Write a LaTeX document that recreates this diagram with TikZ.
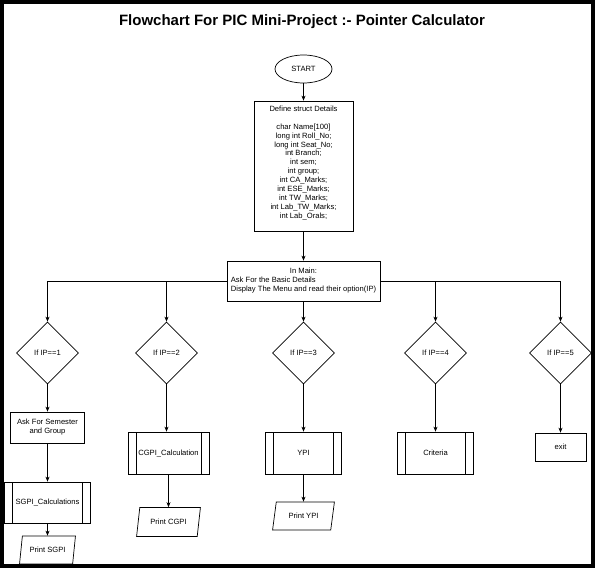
\documentclass[tikz,border=0pt]{standalone}
\usepackage{fontspec}
\setmainfont{Liberation Sans}
\usepackage{tikz}
\usetikzlibrary{shapes.geometric, arrows.meta, positioning}
\tikzstyle{titletext} = [font=\bfseries\fontsize{15}{18}\selectfont, inner sep=0pt]
\tikzstyle{startstop} = [ellipse, minimum width=57pt, minimum height=28pt, inner sep=0pt, text centered, draw=black]
\tikzstyle{block} = [rectangle, draw=black, minimum width=99pt, minimum height=130pt, inner sep=0pt, align=center, font=\fontsize{7.6}{8.9}\selectfont]
\tikzstyle{process} = [rectangle, draw=black, inner sep=0pt, align=center]
\tikzstyle{decision} = [diamond, draw=black, minimum width=62pt, minimum height=62pt, aspect=1, inner sep=0pt]
\tikzstyle{io} = [trapezium, trapezium left angle=70, trapezium right angle=110, trapezium stretches=true, minimum width=62pt, minimum height=28pt, inner sep=0pt, draw=black]
\tikzstyle{subproc} = [rectangle, draw=black, minimum height=42pt, inner sep=0pt,
  path picture={\draw ([xshift=8pt]path picture bounding box.north west) -- ([xshift=8pt]path picture bounding box.south west);
                \draw ([xshift=-8pt]path picture bounding box.north east) -- ([xshift=-8pt]path picture bounding box.south east);}]
\tikzstyle{line} = [draw, -{Stealth[length=5pt,width=4pt]}]

\begin{document}
\begin{tikzpicture}[x=1pt, y=-1pt, node distance=100pt, line width=0.7pt,
    every node/.append style={font=\fontsize{7.6}{9}\selectfont}]
  \useasboundingbox (0,0) rectangle (595,568);
  \fill[white] (0,0) rectangle (595,568);

  \node (title) [titletext] at (302,22) {Flowchart For PIC Mini-Project :- Pointer Calculator};
  \node (start) [startstop] at (303.5,69) {START};
  \node (details) [block, below of=start, yshift=3pt] {Define struct Details\\[8.9pt]
    char Name[100]\\ long int Roll\_No;\\ long int Seat\_No;\\ int Branch;\\ int sem;\\ int group;\\
    int CA\_Marks;\\ int ESE\_Marks;\\ int TW\_Marks;\\ int Lab\_TW\_Marks;\\ int Lab\_Orals;\\[-1pt]};
  \node (main) [process, below of=details, yshift=-15pt, minimum width=153pt, minimum height=40pt] {%
    \begin{tabular}{@{}l@{}}\multicolumn{1}{@{}c@{}}{In Main:}\\ Ask For the Basic Details\\ Display The Menu and read their option(IP)\end{tabular}};

  % decisions
  \node (d3) [decision, below of=main, yshift=28pt] {If IP==3};
  \node (d2) [decision, left of=d3, xshift=-37pt] {If IP==2};
  \node (d1) [decision, left of=d2, xshift=-19pt] {If IP==1};
  \node (d4) [decision, right of=d3, xshift=32pt] {If IP==4};
  \node (d5) [decision, right of=d4, xshift=25pt] {If IP==5};

  % branches
  \node (ask) [process, below of=d1, yshift=25.5pt, minimum width=74pt, minimum height=31pt] {Ask For Semester\\and Group};
  \node (sgpi) [subproc, below of=ask, yshift=25pt, minimum width=86pt, minimum height=41pt] {SGPI\_Calculations};
  \node (psgpi) [io, below of=sgpi, yshift=52.5pt, minimum width=56pt] {Print SGPI};
  \node (cgpi) [subproc, below of=d2, xshift=2pt, minimum width=81pt] {CGPI\_Calculation};
  \node (pcgpi) [io, below of=cgpi, yshift=31pt, minimum width=64pt, minimum height=29pt] {Print CGPI};
  \node (ypi) [subproc, below of=d3, minimum width=76pt] {YPI};
  \node (pypi) [io, below of=ypi, yshift=37pt] {Print YPI};
  \node (crit) [subproc, below of=d4, minimum width=76pt] {Criteria};
  \node (exit) [process, below of=d5, yshift=6pt, minimum width=51pt, minimum height=28pt] {exit};

  % Draw edges
  \path [line] (start) -- (details);
  \path [line] (details) -- (main);
  \path [line] (main) -- (d3);
  \path [line] (main.west) -| (d1);
  \path [line] (main.west) -| (d2);
  \path [line] (main.east) -| (d4);
  \path [line] (main.east) -| (d5);
  \path [line] (d1) -- (ask);
  \path [line] (ask) -- (sgpi);
  \path [line] (sgpi) -- (psgpi);
  \path [line] (d2) -- (d2 |- cgpi.north);
  \path [line] (cgpi) -- (pcgpi);
  \path [line] (d3) -- (ypi);
  \path [line] (ypi) -- (pypi);
  \path [line] (d4) -- (crit);
  \path [line] (d5) -- (exit);

  \draw[line width=4pt] (2,2) rectangle (593,566);
\end{tikzpicture}
\end{document}
